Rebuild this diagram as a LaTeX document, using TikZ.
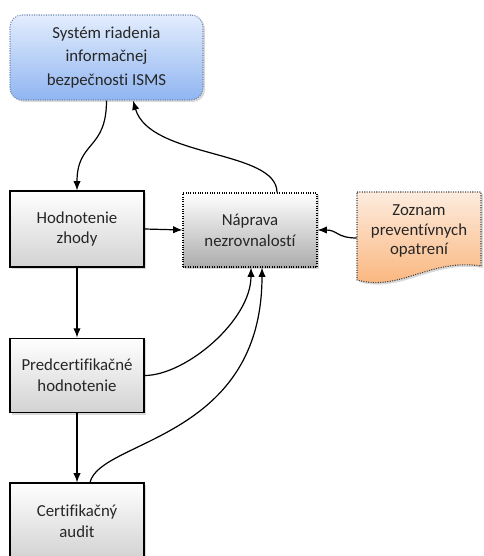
\documentclass[tikz,border=0pt]{standalone}
\usepackage{fontspec}
\setmainfont[Ligatures=NoCommon]{Carlito}
\usetikzlibrary{arrows.meta, shadows, calc}
\definecolor{color1}{RGB}{227, 237, 253}
\definecolor{color2}{RGB}{143, 181, 241}
\definecolor{color3}{RGB}{172, 172, 172}
\definecolor{color4}{RGB}{253, 236, 222}
\definecolor{color5}{RGB}{250, 178, 118}
\definecolor{color6}{RGB}{210, 210, 210}
\definecolor{color7}{RGB}{110, 135, 175}
\tikzset{
    boxshadow/.style={drop shadow={opacity=0.3, shadow xshift=1.5pt, shadow yshift=-1.5pt}},
    stepbox/.style={rectangle, draw=black, line width=0.8pt, align=center, minimum width=100.5pt, minimum height=57pt,
        top color=white, bottom color=color6, boxshadow, text=black!85, font=\fontsize{12.6}{15.5}\selectfont},
    conn/.style={-{Latex[length=7pt, width=5.5pt]}, line width=0.9pt},
}

\begin{document}
\begin{tikzpicture}[x=0.75pt, y=-0.75pt]
    \useasboundingbox (0,0) rectangle (483,556);
    % top box
    \node (isms) [rectangle, rounded corners=9pt, draw=color7, densely dotted, line width=0.8pt, align=center,
        minimum width=144.75pt, minimum height=63.75pt, top color=color1, bottom color=color2, boxshadow,
        text=black!85, font=\fontsize{12.6}{17.5}\selectfont] at (106.5, 57.5) {Systém riadenia\\informačnej\\bezpečnosti ISMS};
    % left column
    \node (hodn) [stepbox] at (77, 229) {Hodnotenie\\zhody};
    \node (predcert) [stepbox, minimum height=56pt] at (77, 375.5) {Predcertifikačné\\hodnotenie};
    \node (cert) [stepbox] at (77, 521) {Certifikačný\\audit};
    % middle box
    \node (naprava) [stepbox, densely dotted, minimum height=55.5pt, bottom color=color3] at (250, 230) {Náprava\\nezrovnalostí};
    % document shape on the right
    \path[draw=black!75, densely dotted, line width=0.8pt, top color=color4, bottom color=color5, boxshadow]
        (357, 192) -- (481, 192) -- (481, 266) .. controls (430, 258) and (400, 292) .. (357, 280) -- cycle;
    \node (zoznam) [align=center, minimum width=93pt, text=black!85, font=\fontsize{12.6}{14.8}\selectfont] at (419, 231)
        {Zoznam\\preventívnych\\opatrení};
    % connectors
    \draw[conn] (isms.south) .. controls +(0, 50) and +(0, -50) .. (hodn.north);
    \draw[conn] ($(naprava.north)+(27, 0)$) .. controls +(0, -43) and +(17, 58) .. ($(isms.south)+(26.5, 0)$);
    \draw[conn] (hodn.east) -- (naprava.west);
    \draw[conn] ($(zoznam.west)+(0, 7)$) .. controls +(-20, 0) and +(20, 0) .. (naprava.east);
    \draw[conn] (hodn.south) -- (predcert.north);
    \draw[conn] (predcert.east) .. controls +(41, 0) and +(0, 53) .. ($(naprava.south)+(1, 0)$);
    \draw[conn] (predcert.south) -- (cert.north);
    \draw[conn] ($(cert.north)+(13, 0)$) .. controls +(10, -43) and +(0, 173) .. ($(naprava.south)+(12, 0)$);
\end{tikzpicture}
\end{document}
